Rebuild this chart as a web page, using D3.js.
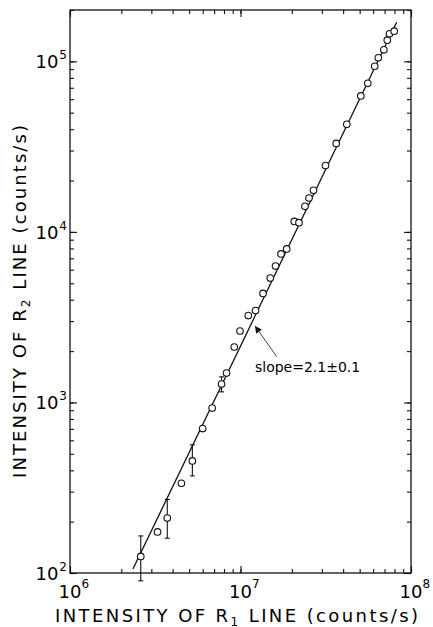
<!DOCTYPE html>
<html>
<head>
<meta charset="utf-8">
<script src="https://cdn.jsdelivr.net/npm/d3@7"></script>
<style>
  body { margin: 0; background: #fff; }
  svg { display: block; font-family: "DejaVu Sans", sans-serif; }
</style>
</head>
<body>
<svg id="chart" width="433" height="627"></svg>
<script>
// data (counts/s)
const r1 = [2.60e6, 3.26e6, 3.72e6, 4.50e6, 5.22e6, 6.00e6, 6.82e6, 7.74e6, 8.28e6, 9.19e6,
            9.93e6, 1.111e7, 1.225e7, 1.355e7, 1.494e7, 1.605e7, 1.728e7, 1.866e7, 2.068e7, 2.203e7,
            2.389e7, 2.522e7, 2.680e7, 3.151e7, 3.641e7, 4.203e7, 5.077e7, 5.58e7, 6.125e7, 6.43e7,
            6.93e7, 7.26e7, 7.48e7, 7.97e7];
const r2 = [125, 174, 210, 336, 454, 703, 927, 1281, 1486, 2114,
            2624, 3231, 3456, 4357, 5364, 6306, 7430, 7948, 11525, 11324,
            14114, 15808, 17521, 24467, 33027, 42700, 62720, 74300, 93600, 104800,
            116800, 133000, 145000, 150200];

// error bars: [r1, low, high]
const errX = [2.60e6, 3.72e6, 5.22e6, 7.74e6];
const errLo = [90, 160, 371, 1154];
const errHi = [165, 270, 564, 1413];

// fitted line ends
const fitX = [2.34e6, 8.24e7];
const fitY = [105.5, 1.696e5];

// annotation
const noteText = "slope=2.1\u00b10.1";
const noteAt = [1.216e7, 1500];
const arrowFrom = [1.631e7, 1856];
const arrowTo = [1.216e7, 2810];

const xMajor = [1e6, 1e7, 1e8];
const yMajor = [1e2, 1e3, 1e4, 1e5];
const xExp = ["6", "7", "8"];
const yExp = ["2", "3", "4", "5"];

const svg = d3.select("#chart");
const mLeft = 70, mRight = 411, mTop = 10, mBottom = 573;

const x = d3.scaleLog().domain([1e6, 1e8]).range([mLeft, mRight]);
const y = d3.scaleLog().domain([1e2, 2e5]).range([mBottom, mTop]);

// frame
svg.append("rect")
    .attr("x", mLeft).attr("y", mTop)
    .attr("width", mRight - mLeft).attr("height", mBottom - mTop)
    .attr("fill", "none").attr("stroke", "#111").attr("stroke-width", 1.3);

// ticks, all pointing inward
const xMinor = x.ticks(), yMinor = y.ticks();
const axes = [
    [() => d3.axisBottom(x), xMinor, xMajor, `translate(0,${mBottom})`],
    [() => d3.axisTop(x), xMinor, xMajor, `translate(0,${mTop})`],
    [() => d3.axisLeft(y), yMinor, yMajor, `translate(${mLeft},0)`],
    [() => d3.axisRight(y), yMinor, yMajor, `translate(${mRight},0)`]
];
axes.forEach(a => {
    [[a[1], -4], [a[2], -7]].forEach(t => {
        const g = svg.append("g").attr("transform", a[3]);
        g.call(a[0]().tickValues(t[0]).tickSize(t[1]).tickFormat(""));
        g.select(".domain").remove();
        g.selectAll("line").attr("stroke", "#111").attr("stroke-width", 1.1);
    });
});

// tick labels
xMajor.forEach((v, i) => {
    svg.append("text").attr("x", x(v)).attr("y", 597.5)
        .attr("text-anchor", "middle").attr("font-size", 18).text("10");
    svg.append("text").attr("x", x(v) + 11.5).attr("y", 587.5)
        .attr("font-size", 12).text(xExp[i]);
});
yMajor.forEach((v, i) => {
    const t = svg.append("text").attr("x", 67).attr("y", y(v) + 7)
        .attr("text-anchor", "end");
    t.append("tspan").attr("font-size", 18).text("10");
    t.append("tspan").attr("font-size", 12).attr("dy", -9).attr("dx", 1).text(yExp[i]);
});

// axis titles
const xt = svg.append("text").attr("x", 236.5).attr("y", 621.5)
    .attr("text-anchor", "middle").attr("font-size", 18)
    .attr("textLength", 363).attr("lengthAdjust", "spacing");
xt.append("tspan").text("INTENSITY OF R");
xt.append("tspan").attr("font-size", 12).attr("dy", 4).text("1");
xt.append("tspan").attr("dy", -4).text(" LINE (counts/s)");

const yt = svg.append("text").attr("transform", "translate(25.5,301.5) rotate(-90)")
    .attr("text-anchor", "middle").attr("font-size", 18)
    .attr("textLength", 353).attr("lengthAdjust", "spacing");
yt.append("tspan").text("INTENSITY OF R");
yt.append("tspan").attr("font-size", 12).attr("dy", 4).text("2");
yt.append("tspan").attr("dy", -4).text(" LINE (counts/s)");

// fit line
svg.append("path")
    .datum(d3.zip(fitX, fitY))
    .attr("d", d3.line().x(d => x(d[0])).y(d => y(d[1])))
    .attr("fill", "none").attr("stroke", "#111").attr("stroke-width", 1.3);

// error bars
const eb = svg.append("g").attr("stroke", "#111").attr("stroke-width", 1.1);
errX.forEach((v, i) => {
    eb.append("line").attr("x1", x(v)).attr("x2", x(v)).attr("y1", y(errLo[i])).attr("y2", y(errHi[i]));
    [errLo[i], errHi[i]].forEach(e => {
        eb.append("line").attr("x1", x(v) - 2.5).attr("x2", x(v) + 2.5).attr("y1", y(e)).attr("y2", y(e));
    });
});

// points
svg.append("g").selectAll("circle")
    .data(d3.zip(r1, r2))
    .enter().append("circle")
        .attr("cx", d => x(d[0]))
        .attr("cy", d => y(d[1]))
        .attr("r", 3.3)
        .attr("fill", "#fff").attr("stroke", "#111").attr("stroke-width", 1.1);

// annotation
svg.append("defs").append("marker")
    .attr("id", "head").attr("viewBox", "0 0 10 10")
    .attr("refX", 10).attr("refY", 5)
    .attr("markerWidth", 9).attr("markerHeight", 7)
    .attr("markerUnits", "userSpaceOnUse")
    .attr("orient", "auto")
  .append("path").attr("d", "M0,0L10,5L0,10z").attr("fill", "#111");

svg.append("line")
    .attr("x1", x(arrowFrom[0])).attr("y1", y(arrowFrom[1]))
    .attr("x2", x(arrowTo[0])).attr("y2", y(arrowTo[1]))
    .attr("stroke", "#111").attr("stroke-width", 0.8)
    .attr("marker-end", "url(#head)");

svg.append("text").attr("x", x(noteAt[0])).attr("y", y(noteAt[1]))
    .attr("font-size", 14).text(noteText);
</script>
</body>
</html>
